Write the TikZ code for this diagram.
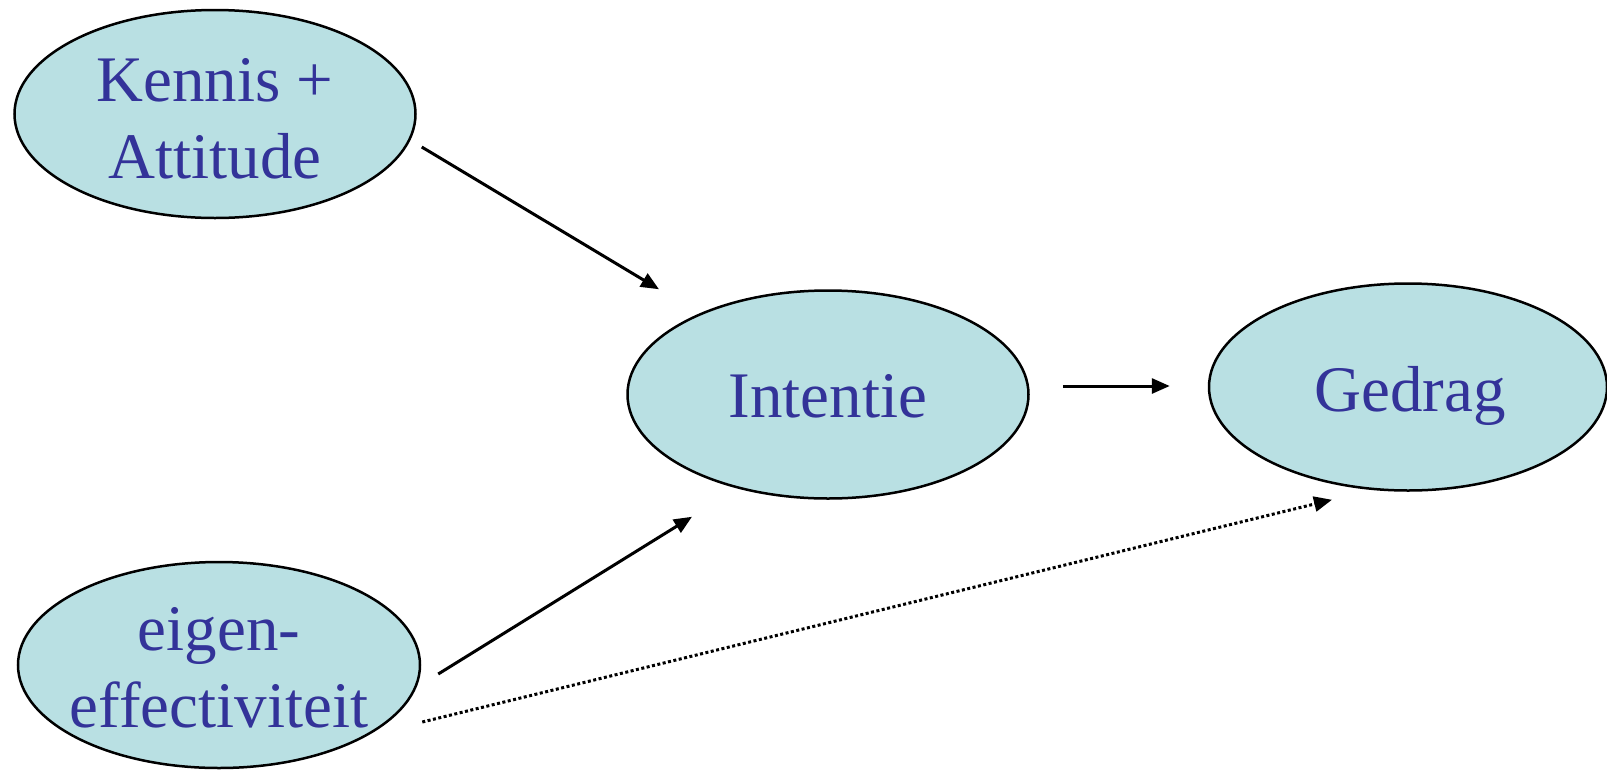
\documentclass[tikz,border=0pt]{standalone}
\usepackage{fontspec}
\setmainfont{Liberation Serif}
\usetikzlibrary{shapes.geometric,arrows.meta}
\definecolor{ellfill}{RGB}{185,224,227}
\definecolor{txtblue}{RGB}{51,51,153}
\tikzset{
  ell/.style={ellipse, draw=black, line width=2.5pt, fill=ellfill, inner sep=0pt},
  txt/.style={text=txtblue, align=center, font=\fontsize{65}{77}\selectfont, inner sep=0pt},
  conn/.style={line width=3pt, -{Triangle[length=18pt,width=15pt]}},
  dotconn/.style={line width=3pt, dash pattern=on 3pt off 2.5pt, -{Triangle[length=18pt,width=15pt]}}
}
\begin{document}
\begin{tikzpicture}[x=1pt,y=-1pt]
\useasboundingbox (0,0) rectangle (1607,769);
\node[ell, minimum width=401pt, minimum height=208pt] (k) at (215,114) {};
\node[ell, minimum width=401pt, minimum height=208pt] (i) at (828,394.5) {};
\node[ell, minimum width=398pt, minimum height=207pt] (g) at (1408,387) {};
\node[ell, minimum width=402pt, minimum height=206pt] (e) at (219,665) {};
\node[txt] (kt) at (215,119) {Kennis +\\Attitude};
\node[txt] (it) at (828,396) {Intentie};
\node[txt] (gt) at (1410,396) {Gedrag};
\node[txt] (et) at (219,668) {eigen-\\effectiviteit};
\draw[conn] ([shift={(5,33)}]k.east) -- ([shift={(-169,0)}]i.north);
\draw[conn] ([shift={(17,9)}]e.east) -- ([shift={(-136,17)}]i.south);
\draw[conn] ([shift={(33,-8.5)}]i.east) -- ([shift={(-38,-1)}]g.west);
\draw[dotconn] ([shift={(1,57)}]e.east) -- ([shift={(-76,8)}]g.south);
\end{tikzpicture}
\end{document}
